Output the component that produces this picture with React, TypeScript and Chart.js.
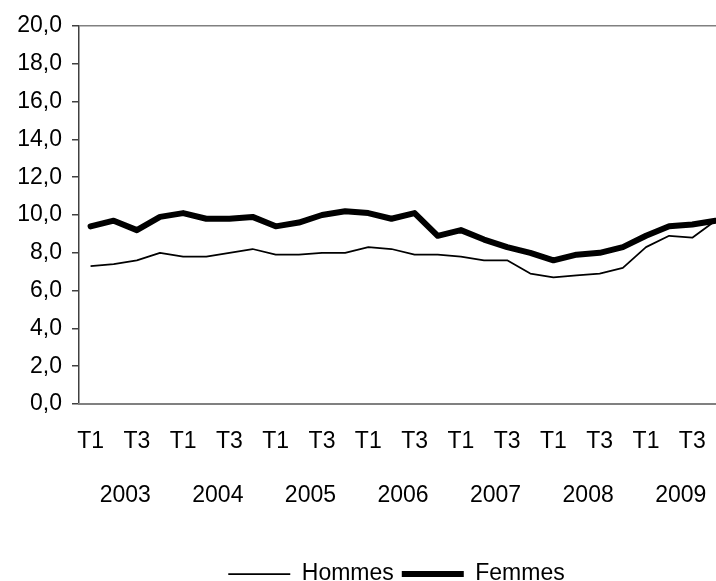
import React, { useEffect, useRef } from 'react';
import { Chart, registerables } from 'chart.js';

Chart.register(...registerables);

const years = ['2003', '2004', '2005', '2006', '2007', '2008', '2009'];
const quarters = ['T1', 'T2', 'T3', 'T4'];
const hommes = [7.3, 7.4, 7.6, 8.0, 7.8, 7.8, 8.0, 8.2, 7.9, 7.9, 8.0, 8.0, 8.3, 8.2, 7.9, 7.9, 7.8, 7.6, 7.6, 6.9, 6.7, 6.8, 6.9, 7.2, 8.3, 8.9, 8.8, 9.7];
const femmes = [9.4, 9.7, 9.2, 9.9, 10.1, 9.8, 9.8, 9.9, 9.4, 9.6, 10.0, 10.2, 10.1, 9.8, 10.1, 8.9, 9.2, 8.7, 8.3, 8.0, 7.6, 7.9, 8.0, 8.3, 8.9, 9.4, 9.5, 9.7];
const yMin = 0;
const yMax = 20;
const yStep = 2;

const FONT = "'Liberation Sans', Arial, sans-serif";
const FS = 23;

const shiftLegend = {
  id: 'shiftLegend',
  afterLayout(chart: any) {
    const l = chart.legend;
    if (l) {
      l.left += 33;
      l.right += 33;
    }
  },
};

export default function App() {
  const ref = useRef<HTMLCanvasElement>(null);

  useEffect(() => {
    if (!ref.current) return;
    const labels = years.flatMap(() => quarters);
    const chart = new Chart(ref.current, {
      type: 'line',
      data: {
        labels,
        datasets: [
          {
            label: 'Hommes',
            data: hommes,
            borderColor: '#000',
            backgroundColor: '#000',
            borderWidth: 1.75,
            pointRadius: 0,
            tension: 0,
            borderCapStyle: 'butt',
            borderJoinStyle: 'round',
          },
          {
            label: 'Femmes',
            data: femmes,
            borderColor: '#000',
            backgroundColor: '#000',
            borderWidth: 6,
            pointRadius: 0,
            tension: 0,
            borderCapStyle: 'round',
            borderJoinStyle: 'round',
          },
        ],
      },
      options: {
        animation: false,
        responsive: true,
        maintainAspectRatio: false,
        layout: { padding: { left: 0, right: 63, top: 26, bottom: 4.5 } },
        font: { family: FONT, size: FS },
        color: '#000',
        plugins: {
          tooltip: { enabled: false },
          legend: {
            position: 'bottom',
            labels: {
              usePointStyle: true,
              pointStyle: 'line',
              pointStyleWidth: 62,
              boxHeight: FS,
              padding: 8,
              color: '#000',
              font: { family: FONT, size: FS },
            },
          },
        },
        scales: {
          y: {
            min: yMin,
            max: yMax,
            afterFit: (s: any) => { s.width = 79; },
            ticks: {
              stepSize: yStep,
              padding: 10,
              color: '#000',
              font: { family: FONT, size: FS },
              callback: (v: any) => Number(v).toFixed(1).replace('.', ','),
            },
            grid: {
              drawOnChartArea: true,
              color: (ctx: any) => (ctx.tick && ctx.tick.value === yMax ? '#808080' : 'rgba(0,0,0,0)'),
              lineWidth: 1.5,
              tickColor: '#404040',
              tickLength: 7,
              tickWidth: 1.5,
            },
            border: { display: true, color: '#404040', width: 1.5 },
          },
          x: {
            type: 'category',
            offset: true,
            weight: 0,
            afterFit: (s: any) => { s.height = 62; },
            grid: { display: false, drawTicks: false },
            border: { display: true, color: '#808080', width: 2 },
            ticks: {
              autoSkip: false,
              maxRotation: 0,
              padding: 24,
              color: '#000',
              font: { family: FONT, size: FS },
              callback: function (this: any, v: any, i: number) {
                return i % 2 === 0 ? this.getLabelForValue(v) : '';
              },
            },
          },
          x2: {
            type: 'category',
            position: 'bottom',
            labels: years,
            offset: true,
            bounds: 'ticks',
            weight: 1,
            afterFit: (s: any) => { s.height = 88.5; },
            grid: { display: false, drawTicks: false },
            border: { display: false },
            ticks: {
              autoSkip: false,
              maxRotation: 0,
              padding: 16,
              color: '#000',
              font: { family: FONT, size: FS },
            },
          },
        },
      } as any,
      plugins: [shiftLegend],
    });
    return () => chart.destroy();
  }, []);

  return (
    <div style={{ position: 'fixed', left: 0, top: 0, width: 716, height: 581, overflow: 'hidden', background: '#fff' }}>
      <div style={{ position: 'relative', width: 790, height: 600 }}>
        <canvas ref={ref} />
      </div>
    </div>
  );
}
